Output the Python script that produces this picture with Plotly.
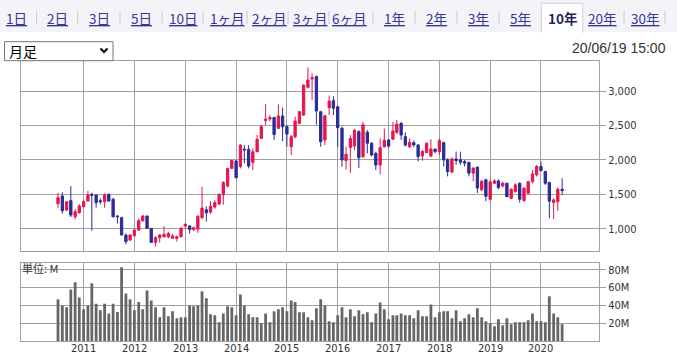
import pandas as pd
import plotly.graph_objects as go

# ---------------- data ----------------
months = [d.strftime("%Y-%m-%d") for d in pd.date_range("2010-07-01", periods=120, freq="MS")]

open_ = [1363, 1474, 1271, 1407, 1174, 1232,
         1319, 1402, 1499, 1489, 1407, 1392, 1499, 1426, 1184, 1160, 908, 835,
         898, 980, 1116, 1184, 1005, 801, 869, 883, 883, 860, 860, 884,
         1040, 1039, 990, 995, 1160, 1275, 1240, 1315, 1360, 1495, 1620, 1876,
         1983, 1901, 2157, 2152, 1964, 2119, 2312, 2570, 2593, 2617, 2458, 2637,
         2482, 2191, 2336, 2530, 2651, 3053, 3174, 3210, 2700, 2288, 2758, 2860,
         2770, 2460, 1990, 2180, 2200, 2410, 2046, 2400, 2240, 2094, 1925, 2190,
         2290, 2300, 2400, 2530, 2336, 2192, 2250, 2216, 2057, 2105, 2056, 2154,
         2120, 2250, 2000, 1822, 2014, 2000, 1976, 1961, 1807, 1894, 1567, 1711,
         1427, 1660, 1694, 1621, 1660, 1442, 1539, 1660, 1408, 1515, 1684, 1782,
         1903, 1830, 1670, 1379, 1393, 1573]
high = [1523, 1528, 1400, 1620, 1286, 1358,
        1416, 1547, 1523, 1495, 1441, 1513, 1513, 1450, 1198, 1174, 932, 922,
        1005, 1150, 1198, 1190, 1010, 894, 923, 1040, 957, 923, 900, 1029,
        1077, 1048, 1029, 1195, 1610, 1325, 1400, 1416, 1515, 1690, 1886, 2000,
        1998, 2225, 2215, 2215, 2167, 2361, 2506, 2810, 2650, 2620, 2806, 2758,
        2506, 2361, 2627, 2710, 3097, 3345, 3257, 3223, 2710, 2651, 2935, 2925,
        2790, 2480, 2190, 2360, 2450, 2430, 2550, 2433, 2260, 2119, 2312, 2455,
        2300, 2550, 2580, 2550, 2400, 2310, 2280, 2230, 2144, 2255, 2300, 2168,
        2310, 2264, 2024, 2034, 2120, 2120, 2000, 1976, 1894, 1904, 1711, 1726,
        1709, 1718, 1718, 1684, 1670, 1587, 1660, 1670, 1602, 1694, 1854, 1927,
        1976, 1840, 1684, 1442, 1600, 1733]
low = [1305, 1218, 1255, 1169, 1131, 1218,
       1310, 1392, 971, 1305, 1353, 1305, 1392, 1165, 1077, 905, 772, 821,
       883, 966, 1102, 1000, 796, 739, 797, 870, 860, 850, 812, 870,
       1000, 932, 966, 940, 1140, 1105, 1215, 1290, 1340, 1350, 1596, 1867,
       1731, 1876, 1949, 1876, 1852, 2109, 2303, 2507, 2560, 2288, 2448, 2274,
       2191, 2070, 2312, 2516, 2637, 3039, 2869, 2510, 2191, 2216, 2652, 2650,
       2190, 1900, 1860, 1810, 2140, 1880, 2030, 2094, 2050, 1852, 1790, 2180,
       2170, 2290, 2375, 2290, 2192, 2170, 2190, 1976, 1985, 2100, 2038, 2096,
       2070, 1904, 1760, 1808, 1928, 1928, 1904, 1760, 1687, 1519, 1543, 1399,
       1410, 1646, 1573, 1597, 1456, 1427, 1524, 1379, 1393, 1505, 1660, 1757,
       1830, 1636, 1150, 1140, 1260, 1490]
close = [1450, 1261, 1392, 1198, 1247, 1329,
         1392, 1489, 1484, 1378, 1392, 1489, 1402, 1174, 1174, 908, 811, 908,
         980, 1116, 1184, 1005, 801, 869, 908, 918, 932, 894, 884, 1005,
         1063, 990, 1014, 1180, 1300, 1230, 1325, 1380, 1495, 1670, 1876, 1993,
         1741, 2215, 2143, 1910, 2119, 2298, 2482, 2593, 2613, 2370, 2637, 2482,
         2375, 2336, 2564, 2700, 3087, 3160, 3194, 2710, 2264, 2640, 2855, 2750,
         2468, 2000, 2080, 2310, 2430, 2030, 2510, 2240, 2070, 1925, 2177, 2285,
         2200, 2420, 2520, 2360, 2216, 2255, 2216, 2048, 2120, 2240, 2157, 2120,
         2280, 2000, 1831, 2014, 1990, 1966, 1952, 1807, 1880, 1591, 1687, 1471,
         1680, 1694, 1597, 1660, 1466, 1573, 1636, 1427, 1587, 1684, 1796, 1903,
         1845, 1660, 1400, 1418, 1573, 1553]
volume_m = [46.8, 40, 38, 58, 66, 49,
            35.6, 40, 65, 42, 34.5, 42, 31, 42, 32.7, 83, 53.5, 46.8,
            34.5, 43.8, 35.6, 56.8, 45.6, 38, 26.7, 37.9, 27.8, 33.4, 25.6, 26.7,
            26.7, 40, 39, 40, 55.8, 48, 30, 29, 21, 31, 39, 38,
            29, 52.4, 40, 30, 26.7, 26.7, 20, 31, 21, 33.4, 35.6, 38,
            33.4, 45.6, 43.8, 32.3, 32.3, 26.7, 23.4, 36.7, 46.8, 40, 22.2, 21,
            29, 38, 26.7, 35.6, 27.8, 34.5, 30, 32.3, 21, 31, 43.4, 35.6,
            24.5, 29, 29, 31, 29, 29, 25.6, 34.5, 27.8, 27.8, 41, 26.7,
            32.3, 33.4, 33.4, 25.6, 34.5, 22.2, 25.6, 30, 26.7, 36.7, 26.7, 22.2,
            20, 16.6, 24.5, 17.7, 25.6, 18.9, 21, 21, 21, 23.4, 31, 22.2,
            22.2, 21, 50.2, 31, 26.7, 18.9]

year_ticks = ["2011-01-01", "2012-01-01", "2013-01-01", "2014-01-01", "2015-01-01",
              "2016-01-01", "2017-01-01", "2018-01-01", "2019-01-01", "2020-01-01"]
year_labels = ["2011", "2012", "2013", "2014", "2015", "2016", "2017", "2018", "2019", "2020"]
price_ticks = [1000, 1500, 2000, 2500, 3000]
vol_ticks = [20, 40, 60, 80]
vol_labels = ["20M", "40M", "60M", "80M"]
tab_labels = ["1日", "2日", "3日", "5日", "10日", "1ヶ月", "2ヶ月", "3ヶ月", "6ヶ月",
              "1年", "2年", "3年", "5年", "10年", "20年", "30年"]
selected_tab = "10年"
period_label = "月足"
timestamp = "20/06/19 15:00"
unit_label = "単位: M"

# ---------------- layout helpers ----------------
W, H = 677, 355
ML, MR, MT, MB = 21, 78, 61, 14
PW, PH = W - ML - MR, H - MT - MB


def px(x):
    return (x - ML) / PW


def py(y):
    return (H - MB - y) / PH


RED = "#e5174d"
BLUE = "#2b2c95"
GRID = "#a0a0a0"
TXT = "#333333"
LINK = "#35359a"
AXFONT = dict(family="DejaVu Sans Condensed, Liberation Sans, sans-serif", size=11, color=TXT)
JPFONT = "Noto Sans CJK JP, sans-serif"

fig = go.Figure()
fig.add_trace(go.Candlestick(
    x=months, open=open_, high=high, low=low, close=close,
    increasing=dict(line=dict(color=RED, width=1), fillcolor=RED),
    decreasing=dict(line=dict(color=BLUE, width=1), fillcolor=BLUE),
    whiskerwidth=0, xaxis="x", yaxis="y", showlegend=False, hoverinfo="skip"))
fig.add_trace(go.Bar(
    x=months, y=volume_m, marker=dict(color="#666666", line_width=0),
    width=20 * 86400000, xaxis="x2", yaxis="y2", showlegend=False, hoverinfo="skip"))

xrange_ = ["2009-10-08", "2021-02-21"]
common_x = dict(type="date", range=xrange_, tickvals=year_ticks, ticktext=year_labels,
                showgrid=True, gridcolor=GRID, gridwidth=1, showline=True, linecolor=GRID,
                linewidth=1, mirror=True, ticks="", zeroline=False, fixedrange=True,
                automargin=False, showticklabels=False)
common_y = dict(side="right", showgrid=True, gridcolor=GRID, showline=True, linecolor=GRID,
                mirror=True, ticks="outside", ticklen=6, tickcolor=GRID, tickfont=AXFONT,
                zeroline=False, fixedrange=True, automargin=False)
fig.update_layout(
    template="none",
    width=W, height=H, margin=dict(l=ML, r=MR, t=MT, b=MB, pad=0), autosize=False,
    paper_bgcolor="white", plot_bgcolor="white", boxgap=0.15,
    xaxis=dict(common_x, domain=[0, 1], anchor="y", rangeslider=dict(visible=False)),
    yaxis=dict(common_y, domain=[py(251), 1], anchor="x", range=[676, 3436],
               tickvals=price_ticks, tickformat=","),
    xaxis2=dict(common_x, domain=[0, 1], anchor="y2", matches="x"),
    yaxis2=dict(common_y, domain=[0, py(262.7)], anchor="x2", range=[0, 88],
                tickvals=vol_ticks, ticktext=vol_labels),
    showlegend=False,
)

shapes = []
ann = []
# year labels under the volume panel, placed on the shared date axis
for tv, tl in zip(year_ticks, year_labels):
    ann.append(dict(text=tl, xref="x2", yref="paper", x=tv, y=py(348.5), xanchor="center",
                    yanchor="middle", showarrow=False, font=AXFONT, borderpad=0))
# tab bar background
shapes.append(dict(type="rect", xref="paper", yref="paper", x0=px(0), x1=px(W), y0=py(32), y1=py(0),
                   fillcolor="#f3f3f8", line=dict(width=0), layer="below"))
# selected tab box
shapes.append(dict(type="rect", xref="paper", yref="paper", x0=px(541.3), x1=px(582.7), y0=py(32.5), y1=py(3.3),
                   fillcolor="white", line=dict(color="#cfcfd8", width=1), layer="below"))
shapes.append(dict(type="line", xref="paper", yref="paper", x0=px(541.8), x1=px(582.2), y0=py(32.5), y1=py(32.5),
                   line=dict(color="white", width=2)))
tab_x = [16, 57, 99, 141, 183, 227, 269, 310, 350, 394, 436, 478, 520, 562, 602, 645]
sep_x = [36.7, 77.7, 120, 162, 203, 247, 288, 329, 373, 415, 457, 499, 624, 665]
for sx in sep_x:
    shapes.append(dict(type="line", xref="paper", yref="paper", x0=px(sx), x1=px(sx), y0=py(24), y1=py(11),
                       line=dict(color="#cccccc", width=1)))
for lbl, tx in zip(tab_labels, tab_x):
    sel = lbl == selected_tab
    ann.append(dict(text=("<b>%s</b>" % lbl) if sel else lbl, xref="paper", yref="paper",
                    x=px(tx), y=py(17.5), xanchor="center", yanchor="middle", showarrow=False,
                    font=dict(family=JPFONT, size=13.5, color="#23235e" if sel else LINK,
                              lineposition="none" if sel else "under")))
# dropdown
shapes.append(dict(type="rect", xref="paper", yref="paper", x0=px(4.5), x1=px(113), y0=py(60.7), y1=py(41.7),
                   fillcolor="white", line=dict(color="#767676", width=1)))
shapes.append(dict(type="path", xref="paper", yref="paper",
                   path="M %f,%f L %f,%f L %f,%f" % (px(100.5), py(48.5), px(104), py(52), px(107.5), py(48.5)),
                   line=dict(color="black", width=2)))
ann.append(dict(text=period_label, xref="paper", yref="paper", x=px(7), y=py(51.5), xanchor="left",
                yanchor="middle", showarrow=False, font=dict(family=JPFONT, size=14, color="black")))
ann.append(dict(text=timestamp, xref="paper", yref="paper", x=px(668), y=py(48.5), xanchor="right",
                yanchor="middle", showarrow=False,
                font=dict(family="Liberation Sans, Arial, sans-serif", size=14, color=TXT)))
ann.append(dict(text=unit_label, xref="paper", yref="paper", x=px(20), y=py(267.5), xanchor="left",
                yanchor="middle", showarrow=False, font=dict(family=JPFONT, size=11, color=TXT)))

fig.update_layout(shapes=shapes, annotations=ann)
fig.write_html("out.html", config={"displayModeBar": False},
               post_script="document.body.style.margin='0px';document.body.style.overflow='hidden';")
